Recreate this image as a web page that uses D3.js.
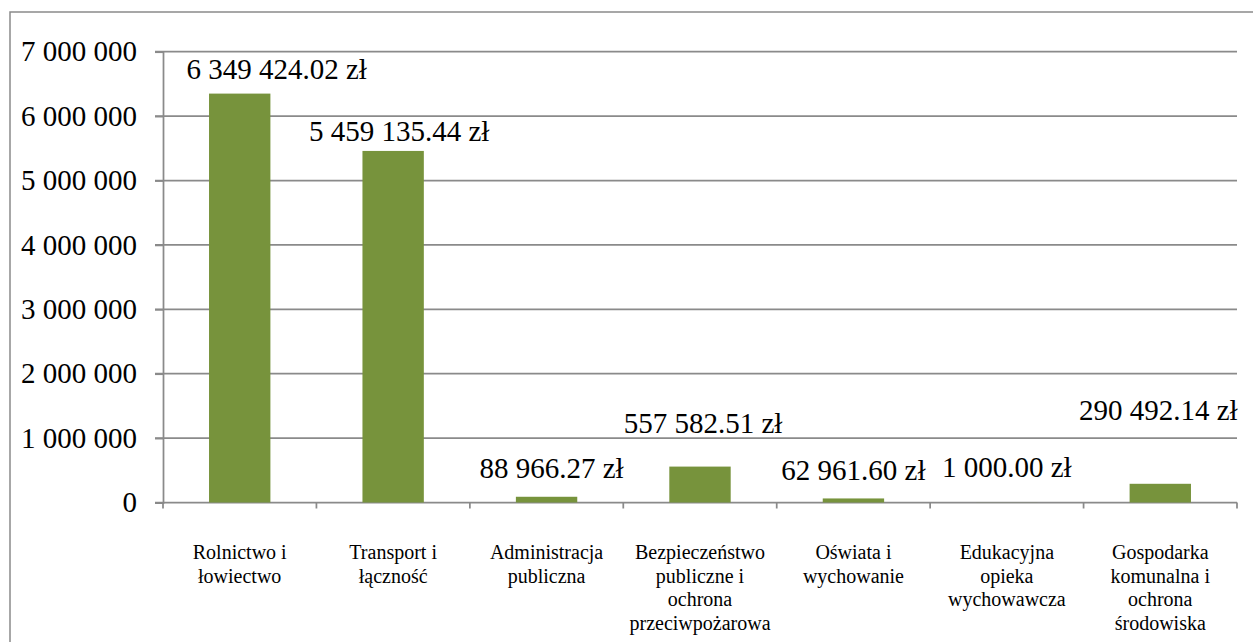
<!DOCTYPE html>
<html>
<head>
<meta charset="utf-8">
<script src="https://cdn.jsdelivr.net/npm/d3@7"></script>
<style>
  body { margin: 0; background: #fff; }
  svg { display: block; }
</style>
</head>
<body>
<div id="chart"></div>
<script>
// DATA
var categories = [
  "Rolnictwo i łowiectwo",
  "Transport i łączność",
  "Administracja publiczna",
  "Bezpieczeństwo publiczne i ochrona przeciwpożarowa",
  "Oświata i wychowanie",
  "Edukacyjna opieka wychowawcza",
  "Gospodarka komunalna i ochrona środowiska"
];
var values = [6349424.02, 5459135.44, 88966.27, 557582.51, 62961.60, 1000.00, 290492.14];
var yTicks = [0, 1000000, 2000000, 3000000, 4000000, 5000000, 6000000, 7000000];

// label nudges (px) - the labels were hand placed in the original
var labelDx = [37, 6, 5, 3, 0, 0, -2];
var labelDy = [-15, -10, -19, -34, -18, -25, -64];

var W = 1253, H = 642;
var plotLeft = 163, plotRight = 1237, plotTop = 51.7, plotBottom = 502.5;
var FONT = "Liberation Serif";

var svg = d3.select("#chart").append("svg")
  .attr("width", W)
  .attr("height", H)
  .style("font-family", FONT);

// outer chart border (runs off right and bottom edge)
svg.append("rect")
  .attr("x", 10).attr("y", 12)
  .attr("width", 1300).attr("height", 700)
  .attr("fill", "none")
  .attr("stroke", "#8a8a8a")
  .attr("stroke-width", 1.5);

var x = d3.scaleBand()
  .domain(categories)
  .range([plotLeft, plotRight])
  .paddingInner(0.6)
  .paddingOuter(0.3);

var y = d3.scaleLinear()
  .domain([0, 7000000])
  .range([plotBottom, plotTop]);

var spaced = function(f) { return function(v) { return f(v).replace(/,/g, " "); }; };
var fmtAxis = spaced(d3.format(","));
var fmtLabel = spaced(d3.format(",.2f"));

var g = svg.append("g");

// gridlines
g.selectAll("line.grid")
  .data(yTicks)
  .enter().append("line")
  .attr("class", "grid")
  .attr("x1", plotLeft - 8).attr("x2", plotRight)
  .attr("y1", function(d) { return y(d); })
  .attr("y2", function(d) { return y(d); })
  .attr("stroke", "#8a8a8a")
  .attr("stroke-width", 1.75);

// y axis
var yAxis = g.append("g")
  .attr("transform", "translate(" + plotLeft + ",0)")
  .call(d3.axisLeft(y).tickValues(yTicks).tickFormat(fmtAxis).tickSize(8).tickPadding(18));
yAxis.attr("font-family", null).attr("font-size", null);
yAxis.select(".domain").attr("stroke", "#8a8a8a").attr("stroke-width", 1.75);
yAxis.selectAll(".tick line").attr("stroke", "#8a8a8a").attr("stroke-width", 1.75);
yAxis.selectAll(".tick text")
  .attr("fill", "#000")
  .style("font-family", FONT)
  .style("font-size", "29px");

// x axis: boundary ticks between categories
var step = (plotRight - plotLeft) / categories.length;
g.selectAll("line.xtick")
  .data(d3.range(categories.length + 1))
  .enter().append("line")
  .attr("class", "xtick")
  .attr("x1", function(i) { return plotLeft + i * step; })
  .attr("x2", function(i) { return plotLeft + i * step; })
  .attr("y1", plotBottom)
  .attr("y2", plotBottom + 6)
  .attr("stroke", "#8a8a8a")
  .attr("stroke-width", 1.75);

// bars
g.selectAll("rect.bar")
  .data(values)
  .enter().append("rect")
  .attr("class", "bar")
  .attr("x", function(d, i) { return x(categories[i]); })
  .attr("width", x.bandwidth())
  .attr("y", function(d) { return y(d); })
  .attr("height", function(d) { return plotBottom - y(d); })
  .attr("fill", "#77933c");

// value labels
g.selectAll("text.val")
  .data(values)
  .enter().append("text")
  .attr("class", "val")
  .attr("x", function(d, i) { return x(categories[i]) + x.bandwidth() / 2 + labelDx[i]; })
  .attr("y", function(d, i) { return y(d) + labelDy[i]; })
  .attr("text-anchor", "middle")
  .style("font-family", FONT)
  .style("font-size", "29px")
  .attr("fill", "#000")
  .text(function(d) { return fmtLabel(d) + " zł"; });

// category labels, wrapped
var catText = g.selectAll("text.cat")
  .data(categories)
  .enter().append("text")
  .attr("class", "cat")
  .attr("x", function(d) { return x(d) + x.bandwidth() / 2; })
  .attr("y", 559)
  .attr("text-anchor", "middle")
  .style("font-family", FONT)
  .style("font-size", "20px")
  .attr("fill", "#000")
  .text(function(d) { return d; });

catText.each(function(d) {
  var text = d3.select(this);
  var words = d.split(" ");
  var cx = text.attr("x");
  text.text(null);
  var lines = [], line = [];
  var probe = text.append("tspan");
  words.forEach(function(w) {
    line.push(w);
    probe.text(line.join(" "));
    if (probe.node().getComputedTextLength() > 140 && line.length > 1) {
      line.pop();
      lines.push(line.join(" "));
      line = [w];
    }
  });
  lines.push(line.join(" "));
  probe.remove();
  lines.forEach(function(l, i) {
    text.append("tspan")
      .attr("x", cx)
      .attr("y", 559 + i * 23.5)
      .text(l);
  });
});
</script>
</body>
</html>
